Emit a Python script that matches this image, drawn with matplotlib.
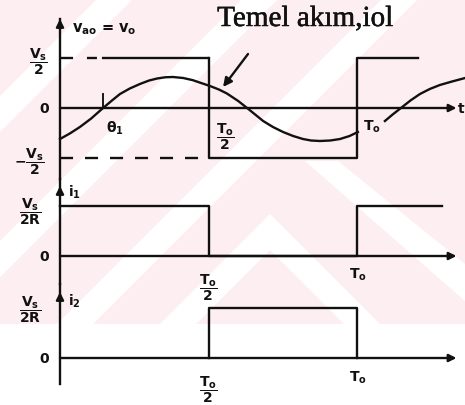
import matplotlib.pyplot as plt
import matplotlib.patheffects as pe
from matplotlib.patches import Polygon, Rectangle, FancyArrowPatch

plt.rcParams['font.family'] = 'DejaVu Sans'
plt.rcParams['mathtext.fontset'] = 'custom'
plt.rcParams['mathtext.rm'] = 'DejaVu Sans:bold'
plt.rcParams['mathtext.it'] = 'DejaVu Sans:bold'
plt.rcParams['mathtext.bf'] = 'DejaVu Sans:bold'
plt.rcParams['lines.scale_dashes'] = False

# time in units of T0, output voltage in units of Vs/2
t_vo = [0.0, 0.5, 0.5, 1.0, 1.0, 1.205]
vo = [1, 1, -1, -1, 1, 1]
t_neg = [0.0, 0.5]
v_neg = [-1, -1]

# fundamental current io1 (two pieces, broken by the T0 label)
t_fund_a = [0.0, 0.033, 0.067, 0.105, 0.145, 0.175, 0.202, 0.235, 0.269,
            0.300, 0.327, 0.355, 0.380, 0.415, 0.448, 0.475, 0.505, 0.535,
            0.562, 0.600, 0.630, 0.657, 0.684, 0.717, 0.751, 0.785, 0.818,
            0.845, 0.875, 0.910, 0.943, 0.975, 1.003]
i_fund_a = [-0.62, -0.51, -0.38, -0.21, 0.0, 0.15, 0.28, 0.39, 0.48,
            0.55, 0.59, 0.615, 0.62, 0.60, 0.555, 0.50, 0.44, 0.37,
            0.29, 0.14, 0.0, -0.13, -0.26, -0.38, -0.48, -0.56, -0.62,
            -0.65, -0.66, -0.65, -0.62, -0.56, -0.48]
t_fund_b = [1.094, 1.120, 1.148, 1.180, 1.212, 1.245, 1.279, 1.320, 1.364]
i_fund_b = [-0.26, -0.13, 0.0, 0.15, 0.28, 0.38, 0.46, 0.53, 0.60]
theta1 = 0.145

# switch currents in units of Vs/2R
t_i1 = [0.0, 0.5, 0.5, 1.0, 1.0, 1.286]
i1 = [1, 1, 0, 0, 1, 1]
t_i2 = [0.5, 0.5, 1.0, 1.0]
i2 = [0, 1, 1, 0]

W, H = 465, 406
LW = 1.7
K = '#111111'

fig = plt.figure(figsize=(W / 100, H / 100), dpi=100)

# faint background print
bg = fig.add_axes([0, 0, 1, 1], zorder=-5)
bg.set_xlim(0, W)
bg.set_ylim(H, 0)
bg.axis('off')
pink = Rectangle((0, 0), W, 325, color='#fdeef1', lw=0)
bg.add_patch(pink)
stripes = []
for c in [115, 260, 400]:
    stripes.append([(c - 18, 0), (c + 18, 0), (0, c + 18), (0, c - 18)])
stripes.append([(160, 325), (196, 325), (270, 251), (270, 215)])
stripes.append([(270, 215), (270, 251), (344, 325), (380, 325)])
stripes.append([(305, 162), (338, 162), (465, 265), (465, 302)])
for pts in stripes:
    p = Polygon(pts, closed=True, color='white', lw=0)
    bg.add_patch(p)
    p.set_clip_path(pink)


def panel(top, bottom, zero):
    ax = fig.add_axes([0, 1 - bottom / H, 1, (bottom - top) / H])
    ax.set_xlim(-60 / 297, 405 / 297)
    ax.set_ylim((zero - bottom) / 50, (zero - top) / 50)
    ax.axis('off')
    ax.patch.set_alpha(0)
    return ax


def arrow(ax, start, end, scale=11):
    a = FancyArrowPatch(start, end, arrowstyle='-|>', color=K, lw=LW,
                        mutation_scale=scale, shrinkA=0, shrinkB=0,
                        clip_on=False)
    ax.add_patch(a)


def axes_lines(ax, ytop, ybot, tip):
    ax.plot([0, 0], [ybot, ytop], color=K, lw=LW, clip_on=False)
    arrow(ax, (0, tip - 0.2), (0, tip))
    arrow(ax, (0, 0), (1.335, 0))


tk = dict(ha='center', va='center', fontsize=10, color=K)

# output voltage and its fundamental current
ax1 = panel(0, 180, 109)
axes_lines(ax1, 1.78, -1.42, 1.78)
ax1.plot(t_vo[:2], vo[:2], color=K, lw=LW, solid_capstyle='butt',
         linestyle=(0, (9.4, 10, 7.2, 3.6, 300)))
ax1.plot(t_vo[1:], vo[1:], color=K, lw=LW, clip_on=False)
ax1.plot(t_neg, v_neg, color=K, lw=LW, linestyle=(0, (9.4, 8.6)))
ax1.plot(t_fund_a, i_fund_a, color=K, lw=LW)
ax1.plot(t_fund_b, i_fund_b, color=K, lw=LW, clip_on=False)
ax1.plot([theta1, theta1], [0, 0.28], color=K, lw=LW * 0.8)
arrow(ax1, (0.633, 1.08), (0.549, 0.42), scale=13)
ax1.text(0.529, 1.64, 'Temel akım,iol', family='Liberation Serif',
         fontsize=21, ha='left', va='baseline', color=K,
         path_effects=[pe.withStroke(linewidth=0.35, foreground=K)])
ax1.text(0.04, 1.60, r'$v_{ao}$ = $v_o$', ha='left', va='center',
         fontsize=10.5, color=K, weight='bold')
ax1.text(-0.071, 0.94, r'$\dfrac{V_s}{2}$', **tk)
ax1.text(-0.054, 0, '0', **tk, weight='bold')
ax1.text(-0.104, -1.06, r'$-\dfrac{V_s}{2}$', **tk)
ax1.text(0.185, -0.38, r'$\theta_1$', **tk)
ax1.text(0.556, -0.56, r'$\dfrac{T_o}{2}$', **tk)
ax1.text(1.05, -0.36, r'$T_o$', **tk)
ax1.text(1.34, 0, 't', ha='left', va='center', fontsize=10, color=K,
         weight='bold')

# switch current i1
ax2 = panel(180, 285, 257)
axes_lines(ax2, 1.54, -0.56, 1.40)
ax2.plot(t_i1, i1, color=K, lw=LW)
ax2.text(0.027, 1.30, r'$i_1$', ha='left', va='center', fontsize=10, color=K)
ax2.text(-0.101, 0.90, r'$\dfrac{V_s}{2R}$', **tk)
ax2.text(-0.054, 0, '0', **tk, weight='bold')
ax2.text(0.5, -0.62, r'$\dfrac{T_o}{2}$', **tk)
ax2.text(1.003, -0.36, r'$T_o$', **tk)

# switch current i2
ax3 = panel(285, 406, 359)
axes_lines(ax3, 1.48, -0.52, 1.32)
ax3.plot(t_i2, i2, color=K, lw=LW)
ax3.text(0.027, 1.16, r'$i_2$', ha='left', va='center', fontsize=10, color=K)
ax3.text(-0.101, 0.98, r'$\dfrac{V_s}{2R}$', **tk)
ax3.text(-0.054, 0, '0', **tk, weight='bold')
ax3.text(0.5, -0.62, r'$\dfrac{T_o}{2}$', **tk)
ax3.text(1.003, -0.38, r'$T_o$', **tk)

fig.savefig('out.png', dpi=100)
